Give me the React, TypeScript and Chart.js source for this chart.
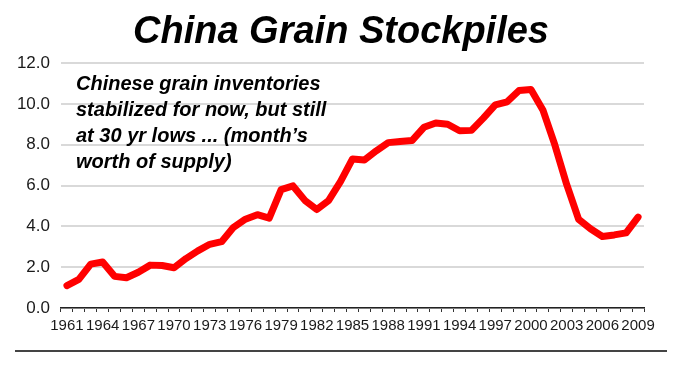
import React, { useEffect, useRef } from "react";
import { Chart, registerables } from "chart.js";

Chart.register(...registerables);

const years: string[] = [
  "1961","1962","1963","1964","1965","1966","1967","1968","1969","1970",
  "1971","1972","1973","1974","1975","1976","1977","1978","1979","1980",
  "1981","1982","1983","1984","1985","1986","1987","1988","1989","1990",
  "1991","1992","1993","1994","1995","1996","1997","1998","1999","2000",
  "2001","2002","2003","2004","2005","2006","2007","2008","2009",
];

const monthsOfSupply: number[] = [
  1.1, 1.4, 2.15, 2.25, 1.55, 1.48, 1.75, 2.1, 2.08, 1.97,
  2.42, 2.8, 3.12, 3.25, 3.95, 4.35, 4.57, 4.4, 5.8, 5.98,
  5.27, 4.82, 5.27, 6.2, 7.3, 7.25, 7.7, 8.1, 8.15, 8.2,
  8.85, 9.06, 9.0, 8.68, 8.7, 9.3, 9.95, 10.1, 10.65, 10.7,
  9.7, 8.0, 6.05, 4.35, 3.88, 3.5, 3.58, 3.68, 4.45,
];

const titleText = "China Grain Stockpiles";
const noteLines: string[] = [
  "Chinese grain inventories",
  "stabilized for now, but still",
  "at 30 yr lows ... (month\u2019s",
  "worth of supply)",
];

const overlayPlugin = {
  id: "overlay",
  afterDraw(chart: any) {
    const ctx = chart.ctx;
    const area = chart.chartArea;
    ctx.save();
    ctx.fillStyle = "#000";
    ctx.font = "italic bold 38px 'Liberation Sans', Arial, sans-serif";
    ctx.textAlign = "center";
    ctx.textBaseline = "alphabetic";
    ctx.fillText(titleText, 341, 43);
    ctx.font = "italic bold 20px 'Liberation Sans', Arial, sans-serif";
    ctx.textAlign = "left";
    noteLines.forEach((line, i) => {
      ctx.fillText(line, area.left + 15, area.top + 27 + i * 26);
    });
    ctx.strokeStyle = "#444";
    ctx.lineWidth = 2;
    ctx.beginPath();
    ctx.moveTo(15, 351);
    ctx.lineTo(667, 351);
    ctx.stroke();
    ctx.restore();
  },
};

export default function App() {
  const canvasRef = useRef<HTMLCanvasElement | null>(null);

  useEffect(() => {
    if (!canvasRef.current) return;
    const chart = new Chart(canvasRef.current, {
      type: "line",
      data: {
        labels: years,
        datasets: [
          {
            data: monthsOfSupply,
            borderColor: "#ff0000",
            backgroundColor: "#ff0000",
            borderWidth: 7,
            pointRadius: 0,
            tension: 0,
            borderJoinStyle: "round",
            borderCapStyle: "round",
            clip: false,
          },
        ],
      },
      options: {
        animation: false,
        responsive: false,
        devicePixelRatio: 1,
        layout: { padding: { top: 63, right: 36, left: 0, bottom: 0 } },
        plugins: {
          legend: { display: false },
          title: { display: false },
          tooltip: { enabled: false },
        },
        scales: {
          x: {
            offset: true,
            grid: {
              display: true,
              drawOnChartArea: false,
              drawTicks: true,
              tickLength: 4,
              color: "#333",
              lineWidth: 1,
              offset: true,
            },
            border: { display: true, color: "#222", width: 1.5 },
            ticks: {
              autoSkip: false,
              maxRotation: 0,
              minRotation: 0,
              padding: 5,
              color: "#1a1a1a",
              font: { family: "'Liberation Sans Narrow', 'Liberation Sans', Arial", size: 15 },
              callback: function (_v: any, i: number) {
                return i % 3 === 0 ? years[i] : "";
              },
            },
            afterFit: (scale: any) => {
              scale.height = 58;
            },
          },
          y: {
            min: 0,
            max: 12,
            border: { display: false },
            grid: { color: "#d9d9d9", lineWidth: 2, drawTicks: false },
            ticks: {
              stepSize: 2,
              padding: 11,
              color: "#1a1a1a",
              font: { family: "'Liberation Sans', Arial", size: 17 },
              callback: (v: any) => Number(v).toFixed(1),
            },
            afterFit: (scale: any) => {
              scale.width = 61;
            },
          },
        },
      },
      plugins: [overlayPlugin],
    });
    return () => chart.destroy();
  }, []);

  return (
    <div style={{ position: "absolute", left: 0, top: 0, width: 680, height: 366, background: "#fff" }}>
      <canvas ref={canvasRef} width={680} height={366} />
    </div>
  );
}
